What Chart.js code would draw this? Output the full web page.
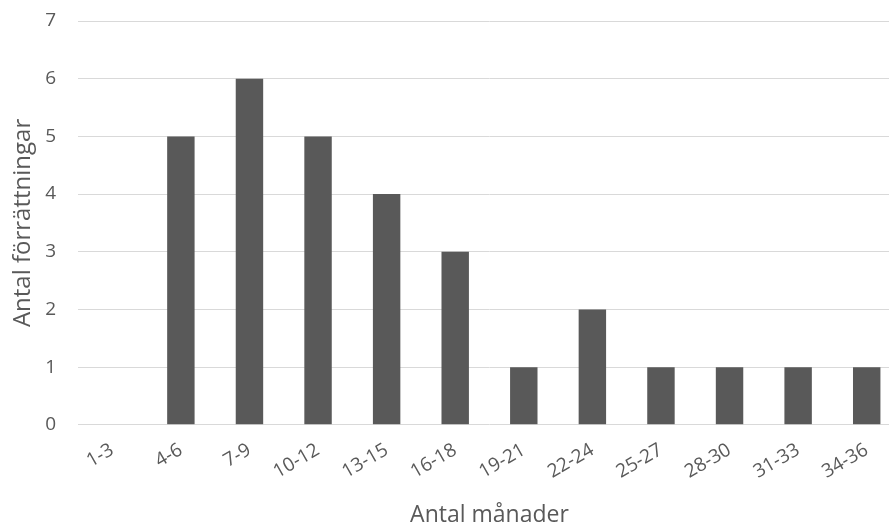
<!DOCTYPE html>
<html>
<head>
<meta charset="utf-8">
<script src="https://cdn.jsdelivr.net/npm/chart.js@4/dist/chart.umd.min.js"></script>
<style>
  html, body { margin: 0; padding: 0; background: #fff; overflow: hidden; }
  #wrap { width: 901px; height: 530px; }
</style>
</head>
<body>
<div id="wrap"><canvas id="chart"></canvas></div>
<script>
// Data
const categories = ["1-3", "4-6", "7-9", "10-12", "13-15", "16-18", "19-21", "22-24", "25-27", "28-30", "31-33", "34-36"];
const counts = [0, 5, 6, 5, 4, 3, 1, 2, 1, 1, 1, 1];
const yTicks = [0, 1, 2, 3, 4, 5, 6, 7];

const textColor = '#595959';
const font = "'Open Sans', 'Liberation Sans', sans-serif";

new Chart(document.getElementById("chart"), {
  type: 'bar',
  data: {
    labels: categories,
    datasets: [{
      label: 'Antal förrättningar',
      data: counts,
      backgroundColor: '#595959',
      categoryPercentage: 1,
      barPercentage: 0.4
    }]
  },
  options: {
    responsive: true,
    maintainAspectRatio: false,
    animation: false,
    layout: { padding: { left: 0, right: 0, top: 21, bottom: 1 } },
    plugins: {
      legend: { display: false },
      tooltip: { enabled: false }
    },
    scales: {
      x: {
        grid: { display: false },
        border: { display: false },
        ticks: {
          color: textColor,
          font: { family: font, size: 19 },
          minRotation: 30,
          maxRotation: 30,
          padding: 6
        },
        title: {
          display: true,
          text: 'Antal månader',
          color: textColor,
          font: { family: font, size: 23 },
          padding: { top: 12, bottom: 0 }
        }
      },
      y: {
        min: 0,
        max: 7,
        afterBuildTicks: axis => { axis.ticks = yTicks.map(v => ({ value: v })); },
        afterFit: axis => {
          axis.width = 78;
          axis.paddingTop = 0;
          axis.paddingBottom = 0;
        },
        grid: { color: '#d9d9d9', lineWidth: 1, drawTicks: false },
        border: { display: false },
        ticks: {
          color: textColor,
          font: { family: font, size: 19 },
          padding: 22
        },
        title: {
          display: true,
          text: 'Antal förrättningar',
          color: textColor,
          font: { family: font, size: 24 },
          padding: { top: 9, bottom: 0 }
        }
      }
    }
  }
});
</script>
</body>
</html>
